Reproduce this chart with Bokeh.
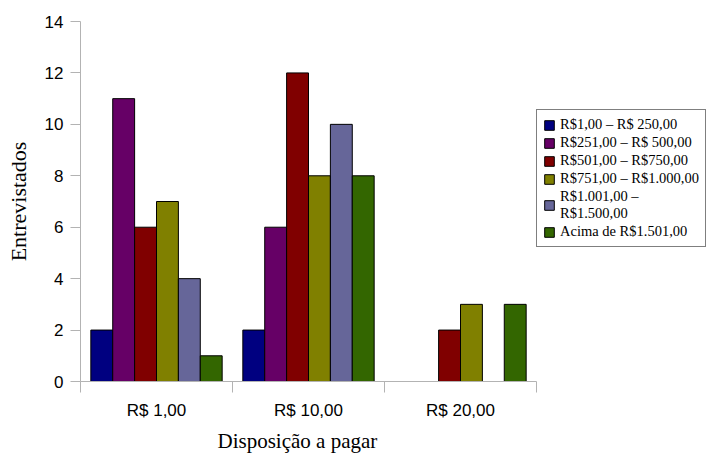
from bokeh.plotting import figure
from bokeh.models import (ColumnDataSource, Range1d, FixedTicker, Legend, LegendItem, Title)
from bokeh.embed import file_html
from bokeh.resources import INLINE

# ---- data ----
categories = ["R$ 1,00", "R$ 10,00", "R$ 20,00"]
series_names = [
    "R$1,00 \u2013 R$ 250,00",
    "R$251,00 \u2013 R$ 500,00",
    "R$501,00 \u2013 R$750,00",
    "R$751,00 \u2013 R$1.000,00",
    "R$1.001,00 \u2013\nR$1.500,00",
    "Acima de R$1.501,00",
]
faixa_1_250 = [2, 2, 0]
faixa_251_500 = [11, 6, 0]
faixa_501_750 = [6, 12, 2]
faixa_751_1000 = [7, 8, 3]
faixa_1001_1500 = [4, 10, 0]
acima_1501 = [1, 8, 3]
series_values = [faixa_1_250, faixa_251_500, faixa_501_750,
                 faixa_751_1000, faixa_1001_1500, acima_1501]
colors = ["#000080", "#660066", "#800000", "#808000", "#666699", "#336600"]
y_ticks = [0, 2, 4, 6, 8, 10, 12, 14]
x_title = "Disposi\u00e7\u00e3o a pagar"
y_title = "Entrevistados"

SERIF = "Liberation Serif"
SANS = "Liberation Sans"

n_cat = len(categories)
n_ser = len(series_names)
bar_w = 0.144
centers = [i + 0.5 for i in range(n_cat)]

# layout: the bar area is 456 px wide; the frame continues to the right
# edge so that the legend (drawn inside the frame) can sit there.
W, H = 710, 456
LEFT, BAR_PX = 80, 456
frame_px = W - LEFT
x_end = n_cat * frame_px / BAR_PX

p = figure(width=W, height=H, output_backend="svg", toolbar_location=None,
           x_range=Range1d(0, x_end), y_range=Range1d(0, 14),
           min_border_left=LEFT, min_border_right=0, min_border_top=21,
           min_border_bottom=74)
p.outline_line_color = None
p.grid.visible = False
p.background_fill_color = "white"
p.border_fill_color = "white"

items = []
for s in range(n_ser):
    off = (s - (n_ser - 1) / 2) * bar_w
    xs = [centers[i] + off for i in range(n_cat) if series_values[s][i] > 0]
    ys = [series_values[s][i] for i in range(n_cat) if series_values[s][i] > 0]
    src = ColumnDataSource(dict(x=xs, top=ys))
    r = p.vbar(x="x", top="top", bottom=0, width=bar_w, source=src,
               fill_color=colors[s], line_color="black", line_width=1)
    items.append(LegendItem(label=series_names[s], renderers=[r]))

# x axis
xa = p.xaxis[0]
xa.bounds = (0, n_cat)
xa.ticker = FixedTicker(ticks=centers, minor_ticks=list(range(n_cat + 1)))
xa.major_label_overrides = {c: lab for c, lab in zip(centers, categories)}
xa.major_tick_line_color = None
xa.major_tick_out = 0
xa.major_tick_in = 0
xa.minor_tick_out = 11
xa.minor_tick_in = 0
xa.minor_tick_line_color = "#b3b3b3"
xa.axis_line_color = "#b3b3b3"
xa.major_label_text_font = SANS
xa.major_label_text_font_size = "17px"
xa.major_label_text_color = "black"
xa.major_label_standoff = 8

xt = Title(text=x_title, align="left", offset=137, standoff=8,
           text_font=SERIF, text_font_style="normal", text_font_size="21px",
           text_color="black")
p.add_layout(xt, "below")

# y axis
ya = p.yaxis[0]
ya.ticker = FixedTicker(ticks=y_ticks)
ya.major_tick_out = 10
ya.major_tick_in = 0
ya.minor_tick_line_color = None
ya.major_tick_line_color = "#b3b3b3"
ya.axis_line_color = "#b3b3b3"
ya.major_label_text_font = SANS
ya.major_label_text_font_size = "17px"
ya.major_label_text_color = "black"
ya.major_label_standoff = 7
ya.axis_label = y_title
ya.axis_label_text_font = SERIF
ya.axis_label_text_font_style = "normal"
ya.axis_label_text_font_size = "22px"
ya.axis_label_text_color = "black"
ya.axis_label_standoff = 11

legend = Legend(items=items, location=(456, 134))
legend.label_text_font = SERIF
legend.label_text_font_size = "14.5px"
legend.label_text_color = "black"
legend.label_text_line_height = 1.0
legend.glyph_width = 12
legend.glyph_height = 12
legend.label_standoff = 5
legend.label_height = 17
legend.spacing = 1
legend.padding = 6
legend.margin = 0
legend.border_line_color = "black"
legend.border_line_width = 1
legend.background_fill_alpha = 1
p.add_layout(legend, "center")

open("out.html", "w").write(file_html(p, INLINE))
